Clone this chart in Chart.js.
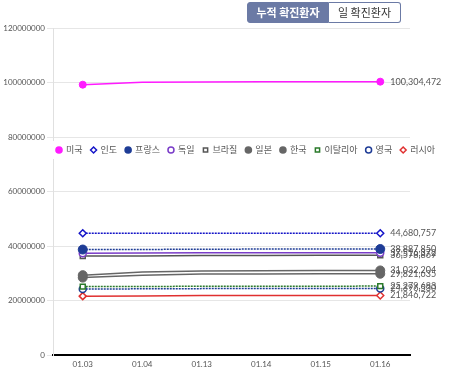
<!DOCTYPE html>
<html>
<head>
<meta charset="utf-8">
<script src="https://cdn.jsdelivr.net/npm/chart.js@4"></script>
<style>
  body { margin: 0; background: #fff; font-family: Lato, "Noto Sans CJK KR", sans-serif; }
  .wrap { position: relative; width: 450px; height: 374px; }
  .tabs { position: absolute; left: 247px; top: 2px; display: flex; }
  .tabs span { display: block; height: 19px; line-height: 19px; padding: 0 8px; font-size: 11px;
               font-family: "Noto Sans CJK KR", sans-serif; border: 1px solid #6b7aa5; }
  .tabs .on { background: #6b7aa5; color: #fff; font-weight: bold; border-radius: 3px 0 0 3px; width: 64px; text-align: center; }
  .tabs .off { background: #fff; color: #333; border-left: none; border-radius: 0 3px 3px 0; width: 55px; text-align: center; }
  canvas { position: absolute; left: 0; top: 0; }
</style>
</head>
<body>
<div class="wrap">
  <canvas id="c" width="450" height="374"></canvas>
  <div class="tabs"><span class="on">누적 확진환자</span><span class="off">일 확진환자</span></div>
</div>
<script>
// dates on the x axis
const labels = ['01.03', '01.04', '01.13', '01.14', '01.15', '01.16'];

// cumulative confirmed cases per country
const usa     = [99200000, 100050000, 100200000, 100250000, 100280000, 100304472];
const india   = [44679000, 44679400, 44680300, 44680500, 44680600, 44680757];
const france  = [38700000, 38720000, 38840000, 38860000, 38875000, 38887850];
const germany = [37380000, 37400000, 37480000, 37495000, 37505000, 37516372];
const brazil  = [36300000, 36330000, 36520000, 36545000, 36560000, 36578869];
const japan   = [29300000, 30500000, 30850000, 30930000, 30990000, 31032204];
const korea   = [28400000, 29300000, 29700000, 29760000, 29790000, 29821635];
const italy   = [25100000, 25120000, 25240000, 25255000, 25268000, 25279683];
const uk      = [24250000, 24270000, 24360000, 24375000, 24388000, 24396530];
const russia  = [21600000, 21630000, 21800000, 21820000, 21835000, 21846722];

const yTicks = [0, 20000000, 40000000, 60000000, 80000000, 100000000, 120000000];

function ends(r) {
  return ctx => (ctx.dataIndex === 0 || ctx.dataIndex === labels.length - 1) ? r : 0;
}

function series(label, data, color, style, filled, r, dash) {
  return {
    label, data,
    borderColor: color,
    backgroundColor: filled ? color : '#fff',
    pointBackgroundColor: filled ? color : '#fff',
    pointBorderColor: color,
    pointBorderWidth: filled ? 1 : 1.5,
    pointStyle: style,
    pointRadius: ends(r),
    pointHoverRadius: ends(r),
    borderWidth: 1.5,
    borderDash: dash || [],
    tension: 0
  };
}

const datasets = [
  series('미국', usa, '#ff1aff', 'circle', true, 3.5),
  series('인도', india, '#1414c8', 'rectRot', false, 3.5, [2, 1]),
  series('프랑스', france, '#1e3c96', 'circle', true, 4.5, [2, 1]),
  series('독일', germany, '#7a3cc8', 'circle', false, 3.5),
  series('브라질', brazil, '#555555', 'rect', false, 3.5),
  series('일본', japan, '#666666', 'circle', true, 4.5),
  series('한국', korea, '#666666', 'circle', true, 4.5),
  series('이탈리아', italy, '#2a7a2a', 'rect', false, 3.5, [2, 1]),
  series('영국', uk, '#1e3c96', 'circle', false, 3.5, [2, 1]),
  series('러시아', russia, '#e03030', 'rectRot', false, 3.5)
];

const overlay = {
  id: 'overlay',
  afterDraw(chart) {
    const ctx = chart.ctx;
    ctx.save();
    // value labels at the last point
    ctx.font = '9px Lato';
    ctx.fillStyle = '#555';
    ctx.textAlign = 'left';
    ctx.textBaseline = 'middle';
    chart.data.datasets.forEach((ds, i) => {
      const pts = chart.getDatasetMeta(i).data;
      const p = pts[pts.length - 1];
      ctx.fillText(ds.data[ds.data.length - 1].toLocaleString('en-US'), p.x + 10, p.y);
    });
    // legend in the middle of the plot
    ctx.fillStyle = '#fff';
    ctx.fillRect(chart.chartArea.left - 1, 141, 385, 18);
    ctx.font = '9px "Noto Sans CJK KR"';
    let x = 55;
    const y = 150;
    chart.data.datasets.forEach(ds => {
      ctx.fillStyle = ds.pointBackgroundColor;
      ctx.strokeStyle = ds.pointBorderColor;
      ctx.lineWidth = 1.5;
      const filled = ds.pointBackgroundColor !== '#fff';
      Chart.helpers.drawPoint(ctx, {
        pointStyle: ds.pointStyle,
        radius: filled ? 3.8 : 3,
        borderWidth: filled ? 0 : 1.5,
        rotation: 0
      }, x + 4, y);
      ctx.fillStyle = '#555';
      ctx.fillText(ds.label, x + 11, y);
      x += 11 + ctx.measureText(ds.label).width + 7;
    });
    ctx.restore();
  }
};

new Chart(document.getElementById('c'), {
  type: 'line',
  data: { labels, datasets },
  options: {
    responsive: false,
    animation: false,
    layout: { padding: { top: 28, right: 40, left: 4, bottom: 2 } },
    plugins: {
      legend: { display: false },
      tooltip: { enabled: false }
    },
    scales: {
      x: {
        offset: true,
        grid: { display: false, drawTicks: false },
        border: { color: '#000', width: 2 },
        ticks: { color: '#555', font: { family: 'Lato', size: 8 }, padding: 5, maxRotation: 0 },
        afterFit: s => { s.height = 17; }
      },
      y: {
        min: 0,
        max: 120000000,
        afterBuildTicks: s => { s.ticks = yTicks.map(v => ({ value: v })); },
        grid: { color: '#e6e6e6', tickLength: 6 },
        border: { color: '#e0e0e0' },
        ticks: { color: '#555', font: { family: 'Lato', size: 8 }, padding: 2, callback: v => String(v) },
        afterFit: s => { s.width = 49; }
      }
    }
  },
  plugins: [overlay]
});
</script>
</body>
</html>
